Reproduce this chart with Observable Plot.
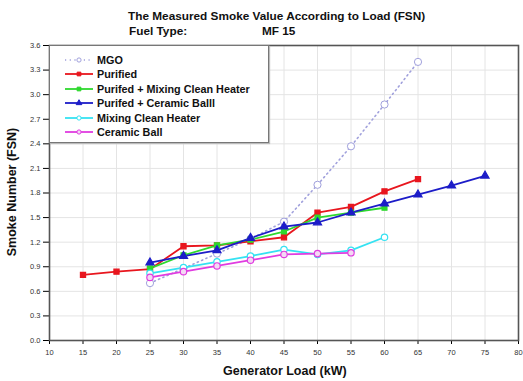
<!DOCTYPE html>
<html>
<head>
<meta charset="utf-8">
<script src="https://cdn.jsdelivr.net/npm/d3@7"></script>
<script src="https://cdn.jsdelivr.net/npm/@observablehq/plot@0.6"></script>
<style>
  html, body { margin: 0; padding: 0; background: #fff; }
  #wrap { position: relative; width: 523px; height: 381px; font-family: "Liberation Sans", Arial, sans-serif; overflow: hidden; }
  .t { position: absolute; font-weight: bold; color: #111; white-space: nowrap; }
  #legend { position: absolute; left: 49px; top: 45px; width: 218px; height: 96px; border: 1px solid #777; box-shadow: 1px 1px 1px #bbb; background: #fff; }
  .li { position: absolute; left: 14px; height: 14px; display: flex; align-items: center; font-weight: bold; font-size: 10.8px; color: #111; }
  .li svg { margin-right: 3px; }
</style>
</head>
<body>
<div id="wrap"></div>
<script>
// ---- data ----
const xTicks = [10,15,20,25,30,35,40,45,50,55,60,65,70,75,80];
const yTicks = [0.0,0.3,0.6,0.9,1.2,1.5,1.8,2.1,2.4,2.7,3.0,3.3,3.6];

const seriesNames = ["MGO","Purified","Purifed + Mixing Clean Heater","Purifed + Ceramic Balll","Mixing Clean Heater","Ceramic Ball"];

const loadMGO = [25,30,35,40,45,50,55,60,65];
const smokeMGO = [0.70,0.88,1.06,1.24,1.45,1.90,2.37,2.88,3.40];

const loadPurified = [15,20,25,30,35,40,45,50,55,60,65];
const smokePurified = [0.80,0.84,0.87,1.15,1.16,1.21,1.26,1.56,1.63,1.82,1.97];

const loadPurMix = [25,30,35,40,45,50,55,60];
const smokePurMix = [0.88,1.04,1.16,1.23,1.33,1.50,1.56,1.62];

const loadPurCer = [25,30,35,40,45,50,55,60,65,70,75];
const smokePurCer = [0.95,1.03,1.10,1.25,1.39,1.44,1.56,1.67,1.78,1.89,2.01];

const loadMix = [25,30,35,40,45,50,55,60];
const smokeMix = [0.82,0.89,0.96,1.03,1.11,1.05,1.10,1.26];

const loadCer = [25,30,35,40,45,50,55];
const smokeCer = [0.77,0.84,0.91,0.98,1.05,1.06,1.07];

// ---- styles ----
const styles = [
  {stroke: "#a0a0dc", dash: "1.2,3.5", symbol: "circle", fill: "white", r: 3.6, sw: 1.6},
  {stroke: "#e8161e", dash: null, symbol: "square", fill: "#e8161e", r: 2.9, sw: 1.8},
  {stroke: "#2ed82e", dash: null, symbol: "square", fill: "#2ed82e", r: 2.8, sw: 1.8},
  {stroke: "#1c1cc8", dash: null, symbol: "triangle", fill: "#1c1cc8", r: 3.0, sw: 1.8},
  {stroke: "#35e2f2", dash: null, symbol: "circle", fill: "white", r: 3.2, sw: 1.8},
  {stroke: "#e03ce0", dash: null, symbol: "circle", fill: "#f4d8f4", r: 3.2, sw: 1.8}
];

const loads = [loadMGO, loadPurified, loadPurMix, loadPurCer, loadMix, loadCer];
const smokes = [smokeMGO, smokePurified, smokePurMix, smokePurCer, smokeMix, smokeCer];
const tables = loads.map((L, i) => L.map((x, j) => ({x, y: smokes[i][j], s: seriesNames[i]})));

const marks = [
  Plot.gridX(xTicks, {stroke: "#e4e4e4", strokeOpacity: 1}),
  Plot.gridY(yTicks, {stroke: "#e4e4e4", strokeOpacity: 1}),
  Plot.axisX({ticks: xTicks, tickSize: 4, tickPadding: 5, fontSize: 7.5, label: null, fill: "#333"}),
  Plot.axisY({ticks: yTicks, tickSize: 6, tickPadding: 3, fontSize: 7.5, label: null, tickFormat: d => d.toFixed(1), fill: "#333"}),
];
tables.forEach((t, i) => {
  const st = styles[i];
  marks.push(Plot.line(t, {x: "x", y: "y", stroke: st.stroke, strokeWidth: st.sw, strokeDasharray: st.dash || undefined, strokeLinecap: "round"}));
});
tables.forEach((t, i) => {
  const st = styles[i];
  marks.push(Plot.dot(t, {x: "x", y: "y", symbol: st.symbol, r: st.r, stroke: st.stroke, fill: st.fill, strokeWidth: i === 0 ? 1 : 1.2}));
});
marks.push(Plot.frame({stroke: "#555", strokeWidth: 1.6}));

const chart = Plot.plot({
  width: 523,
  height: 381,
  marginLeft: 49,
  marginRight: 5,
  marginTop: 45,
  marginBottom: 41,
  x: {domain: [10, 80]},
  y: {domain: [0, 3.6]},
  style: {fontFamily: "Liberation Sans, Arial, sans-serif", background: "white"},
  marks
});

const wrap = document.getElementById("wrap");
wrap.appendChild(chart);

function addText(txt, css) {
  const d = document.createElement("div");
  d.className = "t";
  d.textContent = txt;
  Object.assign(d.style, css);
  wrap.appendChild(d);
  return d;
}
addText("The Measured Smoke Value According to Load (FSN)", {left: "128px", top: "9px", fontSize: "11.8px"});
addText("Fuel Type:", {left: "129px", top: "24px", fontSize: "11.8px"});
addText("MF 15", {left: "262px", top: "24px", fontSize: "11.8px"});
addText("Generator Load (kW)", {left: "223px", top: "364px", fontSize: "12.5px"});
addText("Smoke Number (FSN)", {left: "12px", top: "192px", fontSize: "12.5px", transform: "translate(-50%,-50%) rotate(-90deg)", transformOrigin: "center"});

// legend
const legend = document.createElement("div");
legend.id = "legend";
wrap.appendChild(legend);
const ns = "http://www.w3.org/2000/svg";
seriesNames.forEach((name, i) => {
  const st = styles[i];
  const row = document.createElement("div");
  row.className = "li";
  row.style.top = (7 + i * 14.4) + "px";
  const svg = document.createElementNS(ns, "svg");
  svg.setAttribute("width", 30); svg.setAttribute("height", 10);
  const ln = document.createElementNS(ns, "line");
  ln.setAttribute("x1", 1); ln.setAttribute("x2", 29); ln.setAttribute("y1", 5); ln.setAttribute("y2", 5);
  ln.setAttribute("stroke", st.stroke); ln.setAttribute("stroke-width", st.sw);
  if (st.dash) ln.setAttribute("stroke-dasharray", st.dash);
  svg.appendChild(ln);
  const sym = d3.symbol().type({circle: d3.symbolCircle, square: d3.symbolSquare, triangle: d3.symbolTriangle}[st.symbol]).size(14)();
  const p = document.createElementNS(ns, "path");
  p.setAttribute("d", sym); p.setAttribute("transform", "translate(15,5)");
  p.setAttribute("fill", st.fill); p.setAttribute("stroke", st.stroke); p.setAttribute("stroke-width", 1);
  svg.appendChild(p);
  row.appendChild(svg);
  const sp = document.createElement("span");
  sp.textContent = name;
  row.appendChild(sp);
  legend.appendChild(row);
});
</script>
</body>
</html>
